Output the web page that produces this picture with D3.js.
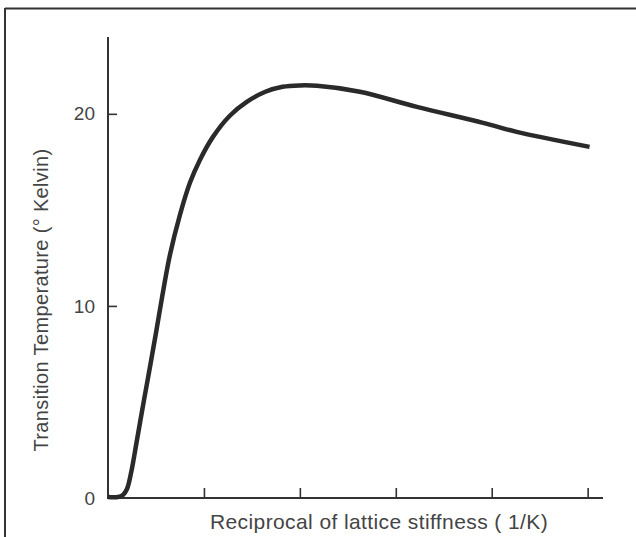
<!DOCTYPE html>
<html>
<head>
<meta charset="utf-8">
<script src="https://cdn.jsdelivr.net/npm/d3@7/dist/d3.min.js"></script>
<style>
  html, body { margin: 0; padding: 0; background: #fff; }
  svg { display: block; }
  text { font-family: "Liberation Sans", Arial, Helvetica, sans-serif; fill: #444; }
</style>
</head>
<body>
<script>
// Reciprocal lattice stiffness (1/K) vs transition temperature (K)
const stiffness = [0, 0.104, 0.156, 0.198, 0.24, 0.302, 0.375, 0.4375, 0.50, 0.5625, 0.646, 0.75, 0.854, 0.958, 1.094, 1.27, 1.45, 1.64, 1.82, 2.0, 2.18, 2.625, 3.22, 3.91, 4.26, 5.02];
const temperature = [0.05, 0.05, 0.16, 0.47, 1.3, 3.02, 5.1, 6.82, 8.59, 10.42, 12.66, 14.74, 16.41, 17.6, 18.8, 19.9, 20.63, 21.15, 21.41, 21.48, 21.46, 21.15, 20.36, 19.53, 19.06, 18.28];
const xTicks = [1, 2, 3, 4, 5];
const yTicks = [0, 10, 20];
const xTitle = "Reciprocal of lattice stiffness ( 1/K)";
const yTitle = "Transition Temperature (\u00B0 Kelvin)";

const W = 636, H = 537;
const svg = d3.select("body").append("svg").attr("width", W).attr("height", H);

// frame lines along top and left edge
svg.append("line").attr("x1", 5).attr("x2", W).attr("y1", 8.5).attr("y2", 8.5)
  .attr("stroke", "#333").attr("stroke-width", 2);
svg.append("line").attr("x1", 5).attr("x2", 5).attr("y1", 8).attr("y2", H)
  .attr("stroke", "#333").attr("stroke-width", 2);

const x = d3.scaleLinear().domain([0, 5.16]).range([108, 603]);
const y = d3.scaleLinear().domain([0, 24]).range([498, 37]);

const axisColor = "#333";

// y axis
const yAxis = svg.append("g").attr("transform", `translate(${x(0)},0)`)
  .call(d3.axisRight(y).tickValues(yTicks).tickSize(9).tickFormat(d => d));
yAxis.select(".domain").remove();
yAxis.selectAll(".tick line").attr("stroke", axisColor).attr("stroke-width", 1.6)
  .filter(d => d === 0).remove();
yAxis.selectAll(".tick text").attr("x", -13).attr("text-anchor", "end")
  .attr("font-size", 19).attr("fill", "#444").attr("font-family", null);
svg.append("line").attr("x1", x(0)).attr("x2", x(0)).attr("y1", y(24)).attr("y2", y(0) + 1)
  .attr("stroke", axisColor).attr("stroke-width", 2);

// x axis
const xAxis = svg.append("g").attr("transform", `translate(0,${y(0)})`)
  .call(d3.axisTop(x).tickValues(xTicks).tickSize(10).tickFormat(""));
xAxis.select(".domain").remove();
xAxis.selectAll(".tick line").attr("stroke", axisColor).attr("stroke-width", 1.6);
svg.append("line").attr("x1", x(0) - 1).attr("x2", x(5.16)).attr("y1", y(0)).attr("y2", y(0))
  .attr("stroke", axisColor).attr("stroke-width", 2);

// axis titles
svg.append("text").attr("x", 379).attr("y", 529).attr("text-anchor", "middle")
  .attr("font-size", 21).attr("letter-spacing", 0.4).text(xTitle);
svg.append("text").attr("transform", "translate(48,300) rotate(-90)")
  .attr("text-anchor", "middle").attr("font-size", 20).attr("letter-spacing", 0.35).text(yTitle);

// curve
const pts = stiffness.map((s, i) => [s, temperature[i]]);
const line = d3.line().x(d => x(d[0])).y(d => y(d[1])).curve(d3.curveCatmullRom.alpha(0.5));
svg.append("path").datum(pts).attr("d", line)
  .attr("fill", "none").attr("stroke", "#2a2a2a").attr("stroke-width", 4.5)
  .attr("stroke-linejoin", "round").attr("stroke-linecap", "butt");
</script>
</body>
</html>
